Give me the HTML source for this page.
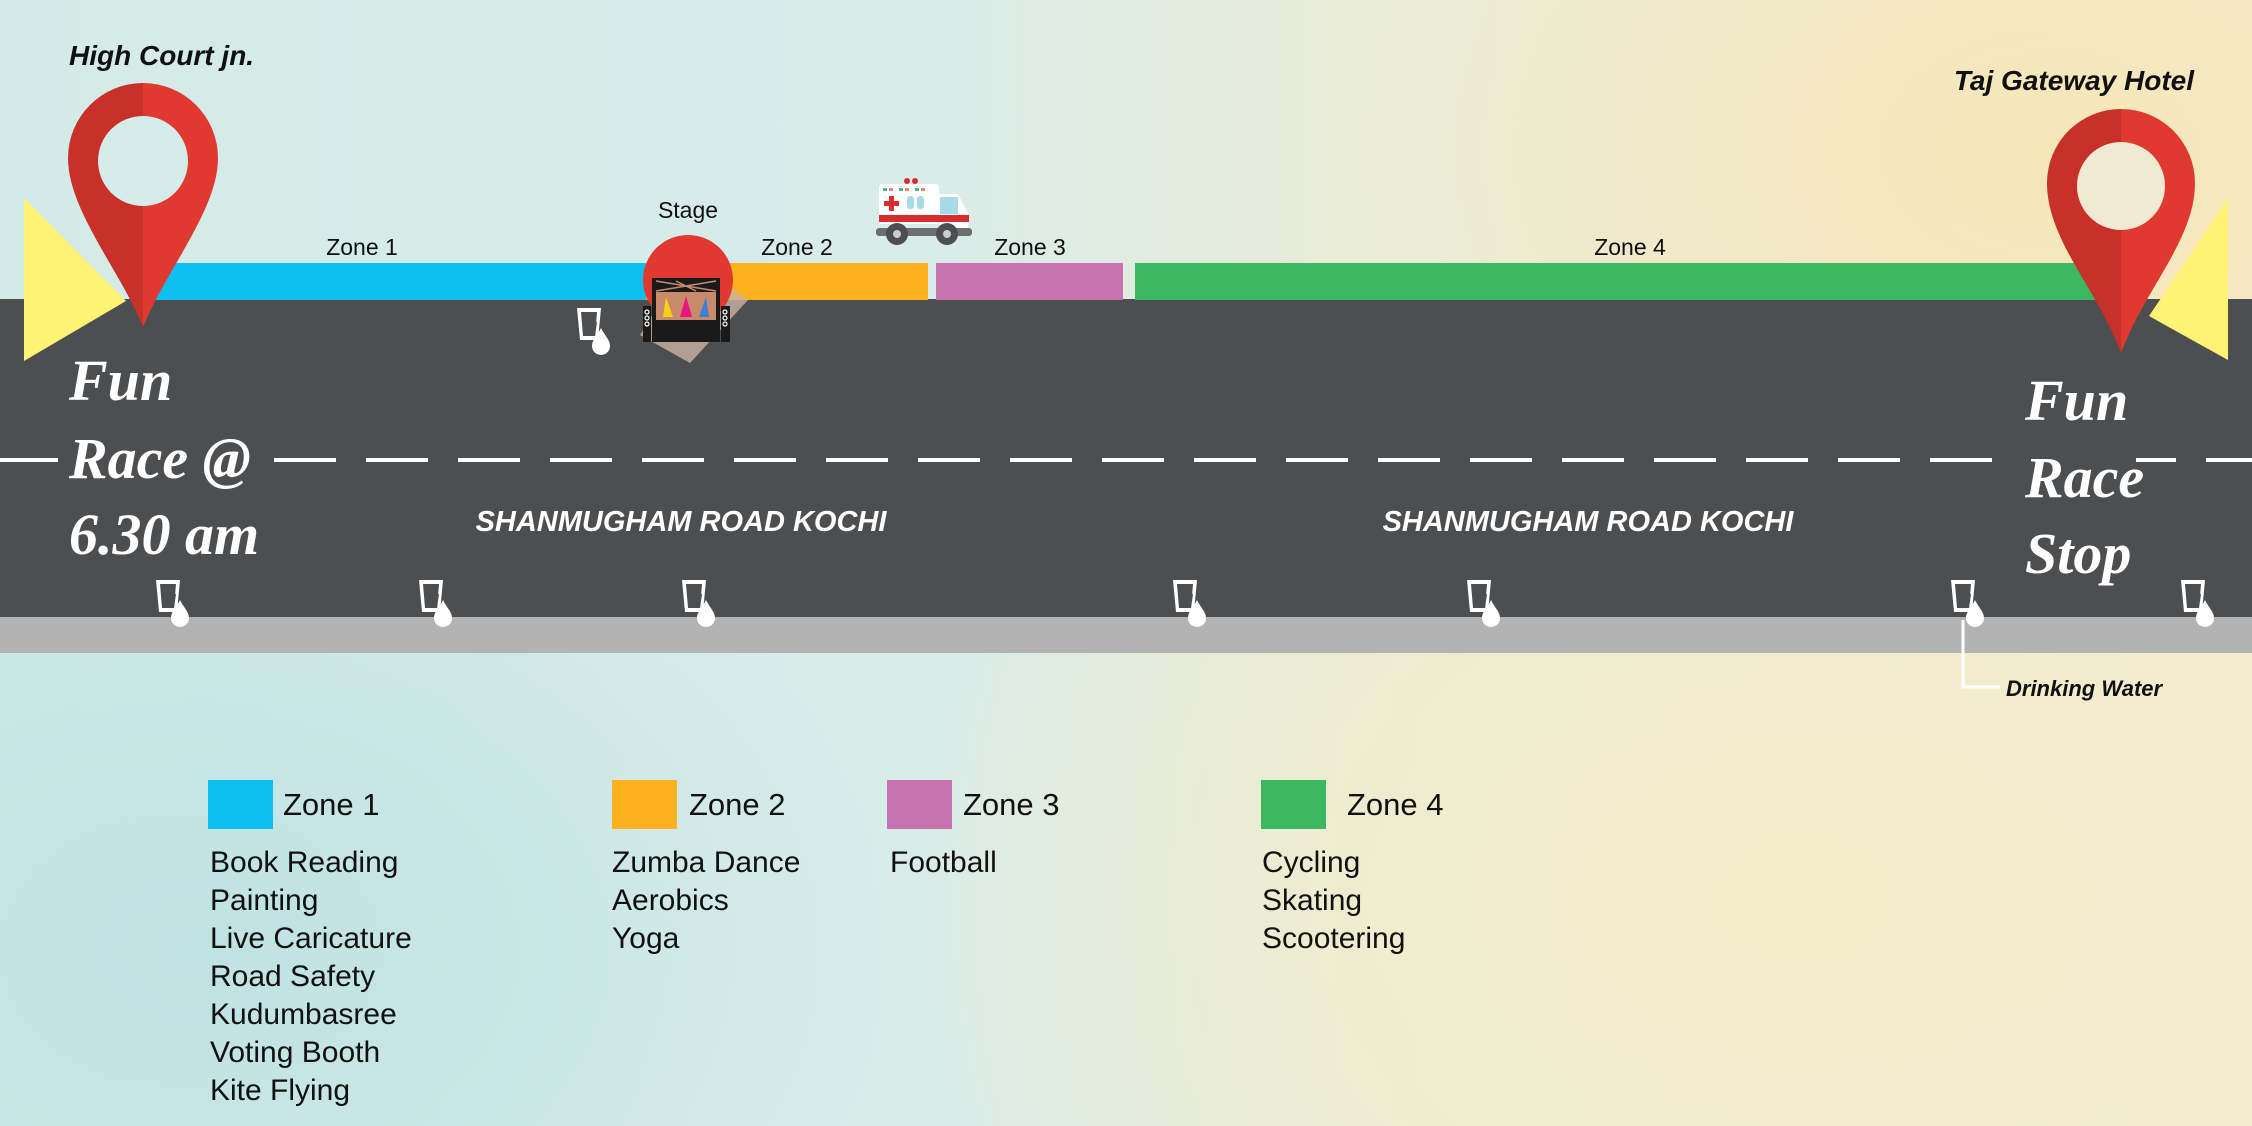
<!DOCTYPE html>
<html><head><meta charset="utf-8"><style>
html,body{margin:0;padding:0;width:2252px;height:1126px;overflow:hidden}
body{background:
radial-gradient(ellipse 700px 500px at 2050px 150px,#f6e6b8 0%,rgba(246,230,184,0) 100%),
radial-gradient(ellipse 900px 600px at 1800px 900px,#f4ecc8 0%,rgba(244,236,200,0) 100%),
radial-gradient(ellipse 700px 500px at 200px 950px,#bfe2e2 0%,rgba(191,226,226,0) 100%),
linear-gradient(90deg,#d3ebe8 0%,#d8ecea 40%,#e9ecd8 60%,#f3ecd2 100%);}
svg{position:absolute;left:0;top:0}
</style></head><body>
<svg width="2252" height="1126" viewBox="0 0 2252 1126" xmlns="http://www.w3.org/2000/svg">
<rect x="0" y="299" width="2252" height="318" fill="#4d4e50"/>
<rect x="0" y="617" width="2252" height="36" fill="#b3b3b3"/>
<g stroke="#fff" stroke-width="4">
<line x1="0" y1="460" x2="58" y2="460"/>
<line x1="274" y1="460" x2="2252" y2="460" stroke-dasharray="62 30"/>
</g>
<rect x="1996" y="440" width="140" height="40" fill="#4d4e50"/>
<rect x="144" y="263" width="502" height="37" fill="#0fbfef"/>
<rect x="646" y="263" width="282" height="37" fill="#fdb11e"/>
<rect x="936" y="263" width="187" height="37" fill="#c673b0"/>
<rect x="1135" y="263" width="962" height="37" fill="#3db862"/>
<g font-family="Liberation Sans, sans-serif" font-size="23" fill="#111" text-anchor="middle">
<text x="362" y="255">Zone 1</text>
<text x="797" y="255">Zone 2</text>
<text x="1030" y="255">Zone 3</text>
<text x="1630" y="255">Zone 4</text>
<text x="688" y="218">Stage</text>
</g>
<polygon points="24,198 126,301 24,361" fill="#fff275"/>
<polygon points="2228,198 2149,316 2228,360" fill="#fff275"/>
<g>
<path d="M143,83 A75,75 0 0 0 68,158 C68,210 120,270 143,327 Z" fill="#c8302a"/>
<path d="M143,83 A75,75 0 0 1 218,158 C218,210 166,270 143,327 Z" fill="#e03a30"/>
<circle cx="143" cy="161" r="45" fill="#d6ecea"/>
</g>
<g>
<path d="M2121,109 A74,74 0 0 0 2047,183 C2047,240 2098,290 2121,353 Z" fill="#c8302a"/>
<path d="M2121,109 A74,74 0 0 1 2195,183 C2195,240 2144,290 2121,353 Z" fill="#e03a30"/>
<circle cx="2121" cy="186" r="44" fill="#f1ead2"/>
</g>
<polygon points="688,258 748,300 690,363 640,335" fill="#c9b3a4" opacity="0.8"/>
<circle cx="688" cy="280" r="45" fill="#e03a30"/>
<rect x="652" y="278" width="68" height="64" fill="#1a1a1a"/>
<rect x="656" y="292" width="60" height="28" fill="#c98a6c"/>
<path d="M656,281 L716,291 M656,291 L716,281 M676,281 L696,291" stroke="#c98a6c" stroke-width="1.5"/>
<polygon points="666,297 673,317 663,317" fill="#f7d117"/>
<polygon points="686,296 692,317 680,317" fill="#e8177e"/>
<polygon points="706,297 709,317 699,317" fill="#3c7fd6"/>
<rect x="643" y="306" width="8" height="36" fill="#1a1a1a"/>
<rect x="721" y="306" width="9" height="36" fill="#1a1a1a"/>
<g fill="none" stroke="#fff" stroke-width="1.2"><circle cx="647" cy="312" r="2"/><circle cx="647" cy="318" r="2"/><circle cx="647" cy="324" r="2"/><circle cx="725" cy="312" r="2"/><circle cx="725" cy="318" r="2"/><circle cx="725" cy="324" r="2"/></g>
<g>
<rect x="879" y="184" width="60" height="40" rx="3" fill="#fff"/>
<path d="M939,194 L958,194 L968,214 L968,232 L939,232 Z" fill="#fff"/>
<rect x="879" y="215" width="90" height="7" fill="#d62e2e"/>
<rect x="876" y="228" width="96" height="8" rx="3" fill="#6d6e70"/>
<rect x="940" y="197" width="18" height="17" fill="#a8dbe8"/>
<rect x="907" y="196" width="7" height="13" rx="3" fill="#a8dbe8"/><rect x="917" y="196" width="7" height="13" rx="3" fill="#a8dbe8"/>
<path d="M889,196 h5 v5 h5 v5 h-5 v5 h-5 v-5 h-5 v-5 h5 z" fill="#d62e2e"/>
<circle cx="907" cy="181" r="3" fill="#d62e2e"/><circle cx="915" cy="181" r="3" fill="#d62e2e"/>
<g fill="#3cbf9a"><rect x="883" y="188" width="4" height="3"/><rect x="899" y="188" width="4" height="3"/><rect x="915" y="188" width="4" height="3"/></g>
<g fill="#f08080"><rect x="889" y="188" width="4" height="3"/><rect x="905" y="188" width="4" height="3"/><rect x="921" y="188" width="4" height="3"/></g>
<circle cx="897" cy="234" r="11" fill="#4d4e50"/><circle cx="897" cy="234" r="4" fill="#ccc"/>
<circle cx="947" cy="234" r="11" fill="#4d4e50"/><circle cx="947" cy="234" r="4" fill="#ccc"/>
</g>
<defs>
<g id="cup">
<path d="M-12,-22 L12,-22 L9,10 L-9,10 Z" fill="#fff"/>
<path d="M-8,-18 L8,-18 L6,6 L-6,6 Z" fill="#4d4e50"/>
<path d="M-4,-10 L8,-8 L6,6 L-4,6 Z" fill="#4d4e50"/>
<path d="M12,-2 C16,6 21,10 21,16 A9,9 0 0 1 3,16 C3,10 8,6 12,-2 Z" fill="#fff"/>
</g>
</defs>
<use href="#cup" x="168" y="602"/>
<use href="#cup" x="431" y="602"/>
<use href="#cup" x="694" y="602"/>
<use href="#cup" x="1185" y="602"/>
<use href="#cup" x="1479" y="602"/>
<use href="#cup" x="1963" y="602"/>
<use href="#cup" x="2193" y="602"/>
<use href="#cup" x="589" y="330"/>
<polyline points="1963,620 1963,687 2000,687" fill="none" stroke="#fff" stroke-width="3"/>
<text x="2006" y="696" font-family="Liberation Sans, sans-serif" font-weight="bold" font-style="italic" font-size="22" fill="#111">Drinking Water</text>
<text x="69" y="65" font-family="Liberation Sans, sans-serif" font-weight="bold" font-style="italic" font-size="28" fill="#111">High Court jn.</text>
<text x="2194" y="90" text-anchor="end" font-family="Liberation Sans, sans-serif" font-weight="bold" font-style="italic" font-size="28" fill="#111">Taj Gateway Hotel</text>
<g font-family="Liberation Serif, serif" font-style="italic" font-weight="bold" font-size="58" fill="#fff">
<text x="69" y="400">Fun</text>
<text x="69" y="478">Race @</text>
<text x="69" y="554">6.30 am</text>
<text x="2025" y="420">Fun</text>
<text x="2025" y="497">Race</text>
<text x="2025" y="573">Stop</text>
</g>
<g font-family="Liberation Sans, sans-serif" font-weight="bold" font-style="italic" font-size="29" fill="#fff" text-anchor="middle">
<text x="681" y="531">SHANMUGHAM ROAD KOCHI</text>
<text x="1588" y="531">SHANMUGHAM ROAD KOCHI</text>
</g>
<rect x="208" y="780" width="65" height="49" fill="#0fbfef"/>
<rect x="612" y="780" width="65" height="49" fill="#fdb11e"/>
<rect x="887" y="780" width="65" height="49" fill="#c673b0"/>
<rect x="1261" y="780" width="65" height="49" fill="#3db862"/>
<g font-family="Liberation Sans, sans-serif" font-size="31" fill="#111">
<text x="283" y="815">Zone 1</text>
<text x="689" y="815">Zone 2</text>
<text x="963" y="815">Zone 3</text>
<text x="1347" y="815">Zone 4</text>
<g font-size="30">
<text x="210" y="872">Book Reading</text>
<text x="210" y="910">Painting</text>
<text x="210" y="948">Live Caricature</text>
<text x="210" y="986">Road Safety</text>
<text x="210" y="1024">Kudumbasree</text>
<text x="210" y="1062">Voting Booth</text>
<text x="210" y="1100">Kite Flying</text>
<text x="612" y="872">Zumba Dance</text>
<text x="612" y="910">Aerobics</text>
<text x="612" y="948">Yoga</text>
<text x="890" y="872">Football</text>
<text x="1262" y="872">Cycling</text>
<text x="1262" y="910">Skating</text>
<text x="1262" y="948">Scootering</text>
</g>
</g>
</svg>
</body></html>
